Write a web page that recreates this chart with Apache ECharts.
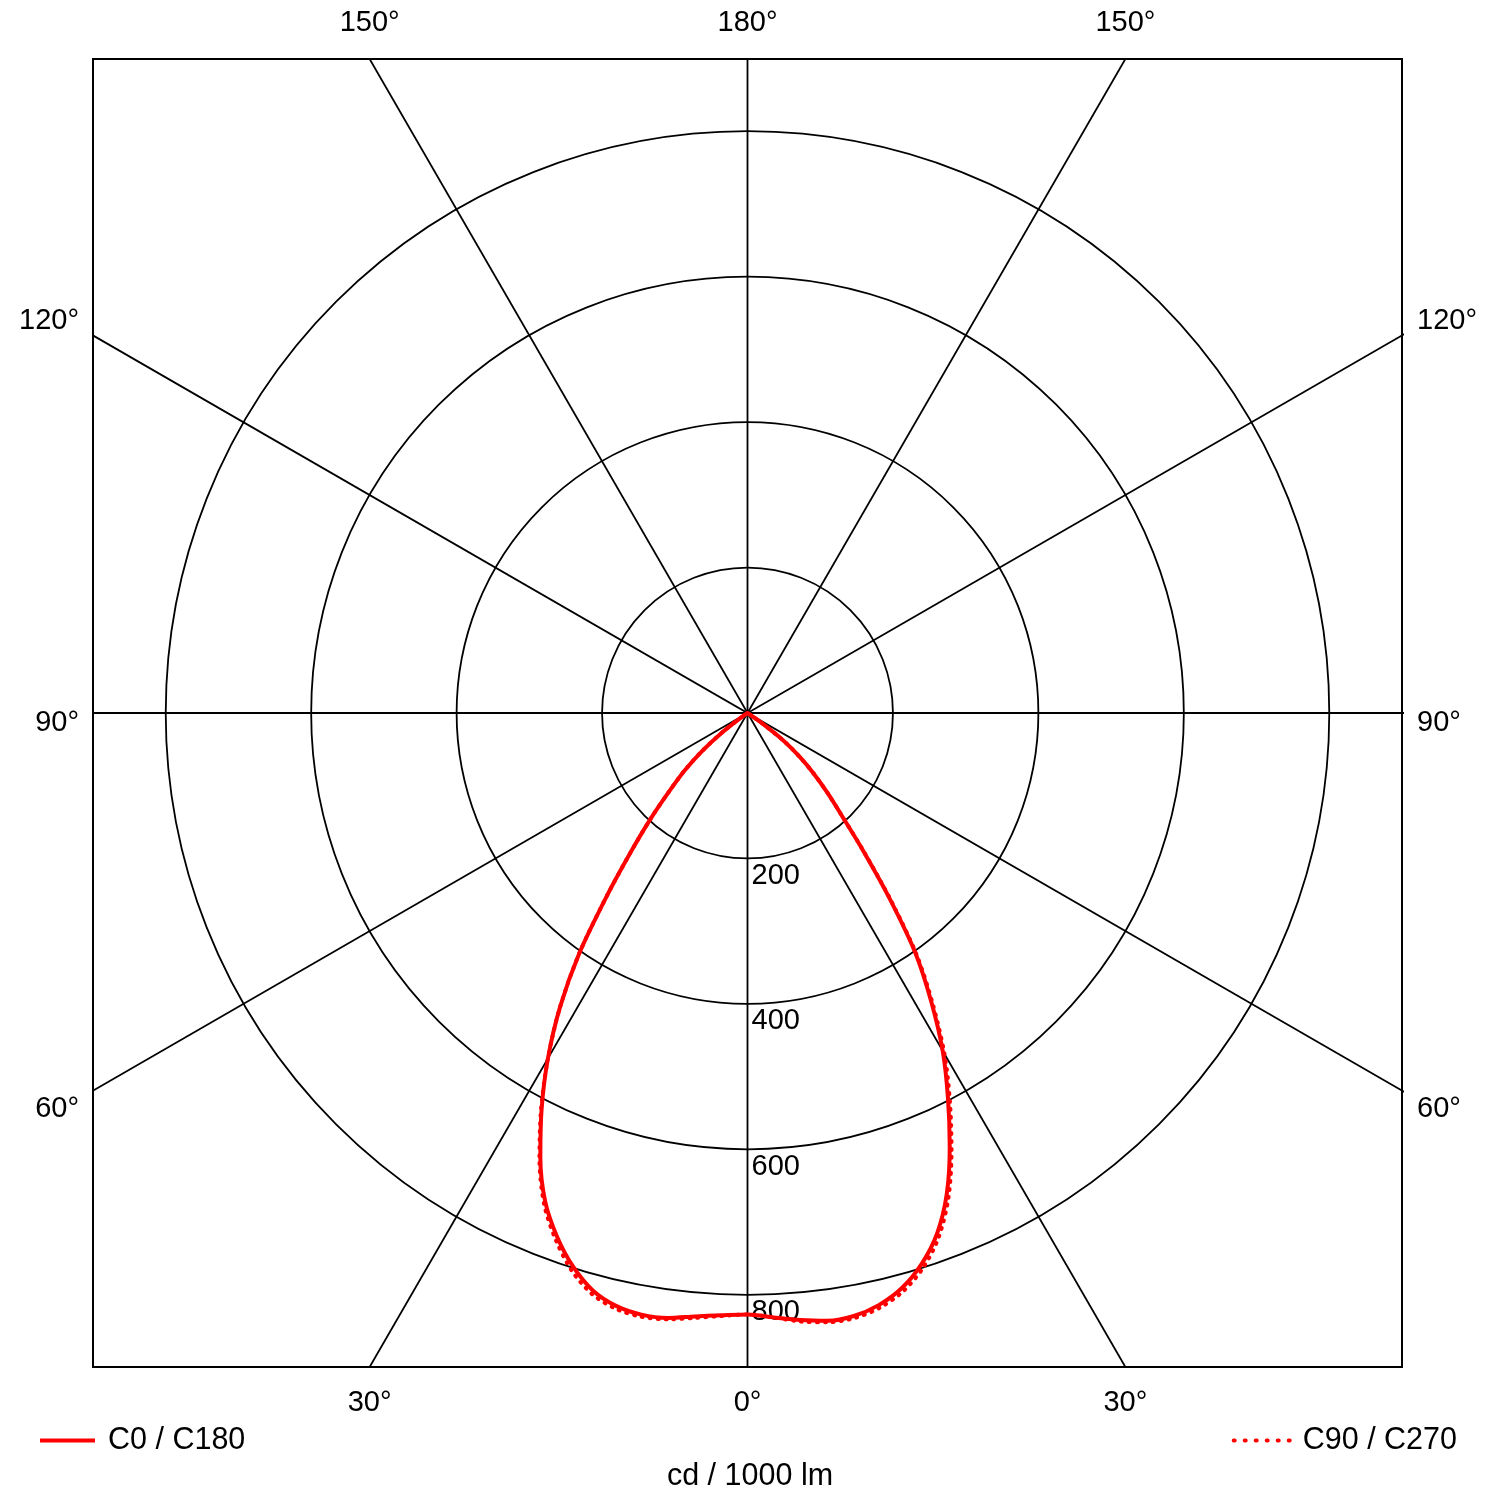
<!DOCTYPE html>
<html>
<head>
<meta charset="utf-8">
<script src="https://cdn.jsdelivr.net/npm/echarts@6/dist/echarts.min.js"></script>
<style>
html,body{margin:0;padding:0;background:#fff;}
#chart{width:1500px;height:1500px;}
</style>
</head>
<body>
<div id="chart"></div>
<script>
// ---- data (gamma angle in degrees, intensity in cd / 1000 lm) ----
const gamma = [0, 2.5, 5, 7.5, 10, 12.5, 15, 17.5, 20, 22.5, 25, 27.5, 30, 32.5, 35, 37.5, 40, 42.5, 45, 47.5, 50, 52.5, 55, 57.5, 60];
const c0   = [827, 832, 838, 843, 842, 834, 819, 795, 762, 716, 658, 597, 537, 470, 402, 320, 248, 193, 156, 124, 93, 62, 22, 0, 0];
const c180 = [827, 829, 833, 839, 840, 835, 822, 798, 766, 727, 674, 613, 549, 480, 403, 319, 250, 197, 152, 118, 82, 45, 12, 0, 0];
const c90  = [827, 832, 840, 845, 845, 838, 824, 801, 768, 722, 664, 603, 542, 474, 405, 322, 249, 193, 156, 124, 93, 62, 22, 0, 0];
const c270 = [827, 830, 835, 841, 843, 839, 827, 804, 771, 731, 677, 615, 549, 480, 403, 319, 250, 197, 152, 118, 82, 45, 12, 0, 0];

const ringValues = [200, 400, 600, 800];
const spokeAngles = [0, 30, 60, 90, 120, 150];
const bottomLabels = ['30°', '0°', '30°'];
const topLabels = ['150°', '180°', '150°'];
const sideLabels = ['60°', '90°', '120°'];
const seriesNames = ['C0 / C180', 'C90 / C270'];
const unitLabel = 'cd / 1000 lm';

// ---- layout constants ----
const HALF = 900;                 // half size of the square frame, in cd units
const FONT = "'Liberation Sans', Arial, sans-serif";
const T30 = HALF * Math.tan(Math.PI / 6);
const edgeLabelPos = [-T30, 0, T30];
const sideLabelPos = [-545.5, -13.5, 539.5];

function plane(right, left) {
  const pts = [];
  for (let i = gamma.length - 1; i > 0; i--) pts.push([left[i], 360 - gamma[i]]);
  for (let i = 0; i < gamma.length; i++) pts.push([right[i], gamma[i]]);
  return pts;
}
function pick(list, positions, v) {
  let best = 0;
  for (let i = 1; i < positions.length; i++) {
    if (Math.abs(positions[i] - v) < Math.abs(positions[best] - v)) best = i;
  }
  return list[best];
}

const spokeSeries = spokeAngles.map(function (a) {
  const r = a * Math.PI / 180, L = 1500;
  return {
    type: 'line', xAxisIndex: 0, yAxisIndex: 0, silent: true, symbol: 'none', clip: true, z: 1,
    lineStyle: { color: '#000', width: 1.8 },
    data: [[-L * Math.sin(r), L * Math.cos(r)], [L * Math.sin(r), -L * Math.cos(r)]]
  };
});

// ring colours: visible at the ring values, hidden at 0 and at the frame radius
const ringColors = [0].concat(ringValues, [HALF]).map(function (v) {
  return ringValues.indexOf(v) >= 0 ? '#000' : 'rgba(0,0,0,0)';
});

const chart = echarts.init(document.getElementById('chart'), null, { renderer: 'canvas' });
const labelStyle = { fontSize: 29, color: '#000', fontFamily: FONT };

chart.setOption({
  animation: false,
  backgroundColor: '#fff',
  textStyle: { fontFamily: FONT },
  title: {
    text: unitLabel, left: 'center', top: 1456,
    textStyle: { fontSize: 30.5, fontWeight: 'normal', color: '#000', fontFamily: FONT }
  },
  legend: [
    {
      data: [seriesNames[0]], left: 38, top: 1425, padding: 0, itemWidth: 55, itemHeight: 14,
      itemStyle: { opacity: 0 },
      lineStyle: { width: 4 },
      textStyle: { fontSize: 30.5, color: '#000', fontFamily: FONT, padding: [0, 0, 0, 8] }
    },
    {
      data: [seriesNames[1]], right: 43, top: 1425, padding: 0, itemWidth: 58, itemHeight: 14,
      itemStyle: { opacity: 0 },
      lineStyle: { width: 4, type: [1, 10], cap: 'round' },
      textStyle: { fontSize: 30.5, color: '#000', fontFamily: FONT, padding: [0, 0, 0, 6] }
    }
  ],
  grid: {
    left: 93, top: 59, width: 1309, height: 1308,
    show: true, borderColor: '#000', borderWidth: 2, backgroundColor: 'transparent'
  },
  xAxis: [
    {
      type: 'value', position: 'bottom', min: -HALF, max: HALF,
      axisLine: { show: false }, axisTick: { show: false }, splitLine: { show: false },
      axisLabel: Object.assign({ customValues: edgeLabelPos, margin: 21,
        formatter: function (v) { return pick(bottomLabels, edgeLabelPos, v); } }, labelStyle)
    },
    {
      type: 'value', position: 'top', min: -HALF, max: HALF,
      axisLine: { show: false }, axisTick: { show: false }, splitLine: { show: false },
      axisLabel: Object.assign({ customValues: edgeLabelPos, margin: 22,
        formatter: function (v) { return pick(topLabels, edgeLabelPos, v); } }, labelStyle)
    }
  ],
  yAxis: [
    {
      type: 'value', position: 'left', min: -HALF, max: HALF,
      axisLine: { show: false }, axisTick: { show: false }, splitLine: { show: false },
      axisLabel: Object.assign({ customValues: sideLabelPos, margin: 14,
        formatter: function (v) { return pick(sideLabels, sideLabelPos, v); } }, labelStyle)
    },
    {
      type: 'value', position: 'right', min: -HALF, max: HALF,
      axisLine: { show: false }, axisTick: { show: false }, splitLine: { show: false },
      axisLabel: Object.assign({ customValues: sideLabelPos, margin: 15,
        formatter: function (v) { return pick(sideLabels, sideLabelPos, v); } }, labelStyle)
    }
  ],
  polar: { center: [747.5, 713], radius: 654.5 },
  angleAxis: {
    type: 'value', min: 0, max: 360, startAngle: -90, clockwise: false,
    axisLine: { show: false }, axisTick: { show: false }, axisLabel: { show: false },
    splitLine: { show: false }
  },
  radiusAxis: {
    type: 'value', min: 0, max: HALF, interval: ringValues[0],
    axisLine: { show: false }, axisTick: { show: false },
    splitLine: { show: true, lineStyle: { color: ringColors, width: 1.8 } },
    axisLabel: Object.assign({ show: true, margin: 4, align: 'left', verticalAlign: 'top',
      padding: [3, 0, 0, 0],
      formatter: function (v) { return ringValues.indexOf(v) >= 0 ? String(v) : ''; } }, labelStyle),
    z: 2
  },
  series: spokeSeries.concat([
    {
      name: seriesNames[1], type: 'line', coordinateSystem: 'polar', symbol: 'none',
      smooth: 0.3, clip: false, z: 3, silent: true,
      itemStyle: { color: '#ff0000' },
      lineStyle: { color: '#ff0000', width: 4, type: [1, 7], cap: 'round' },
      data: plane(c90, c270)
    },
    {
      name: seriesNames[0], type: 'line', coordinateSystem: 'polar', symbol: 'none',
      smooth: 0.3, clip: false, z: 4, silent: true,
      itemStyle: { color: '#ff0000' },
      lineStyle: { color: '#ff0000', width: 4 },
      data: plane(c0, c180)
    }
  ])
});
</script>
</body>
</html>
